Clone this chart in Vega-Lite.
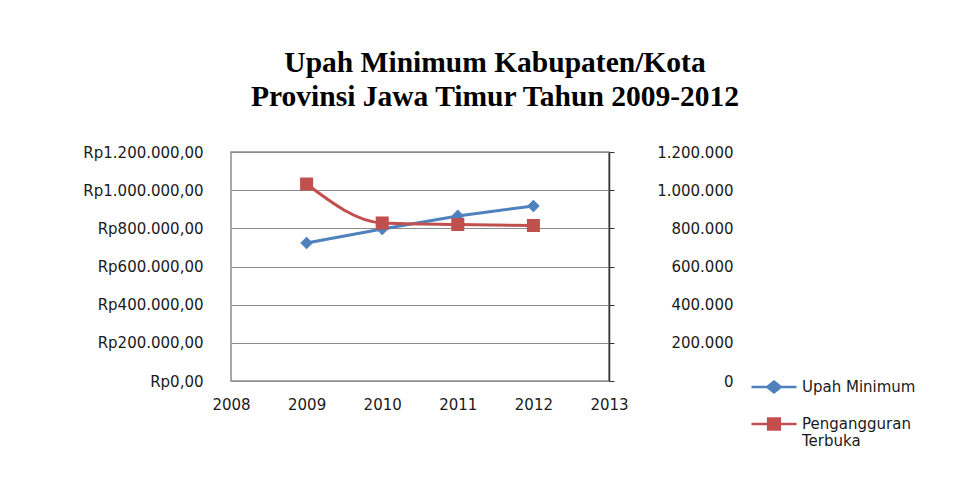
{
  "$schema": "https://vega.github.io/schema/vega-lite/v6.json",
  "width": 378,
  "height": 229,
  "autosize": {"type": "none"},
  "padding": {"left": 231, "top": 152, "right": 358, "bottom": 96},
  "background": "white",
  "config": {
    "locale": {"number": {"decimal": ",", "thousands": ".", "grouping": [3], "currency": ["Rp", ""]}},
    "view": {"stroke": "#8c8c8c", "strokeWidth": 1.5},
    "font": "DejaVu Sans",
    "axis": {"labelFont": "DejaVu Sans", "labelFontSize": 15, "labelColor": "#1a1a1a", "title": null}
  },
  "title": {
    "text": ["Upah Minimum Kabupaten/Kota", "Provinsi Jawa Timur Tahun 2009-2012"],
    "font": "Liberation Serif",
    "fontWeight": "bold",
    "fontSize": 29.5,
    "lineHeight": 34,
    "color": "#000000",
    "anchor": "middle",
    "frame": "group",
    "dx": 75,
    "offset": 33
  },
  "data": {
    "values": [
      {"year": 2009, "series": "Upah Minimum", "value": 723000},
      {"year": 2010, "series": "Upah Minimum", "value": 797000},
      {"year": 2011, "series": "Upah Minimum", "value": 865000},
      {"year": 2012, "series": "Upah Minimum", "value": 917000},
      {"year": 2009, "series": "Pengangguran Terbuka", "value": 1032000},
      {"year": 2010, "series": "Pengangguran Terbuka", "value": 828000},
      {"year": 2011, "series": "Pengangguran Terbuka", "value": 820000},
      {"year": 2012, "series": "Pengangguran Terbuka", "value": 815000}
    ]
  },
  "encoding": {
    "x": {
      "field": "year",
      "type": "quantitative",
      "scale": {"domain": [2008, 2013], "nice": false, "zero": false},
      "axis": {"values": [2008, 2009, 2010, 2011, 2012, 2013], "format": "d", "grid": false, "domain": false, "ticks": false, "labelPadding": 16, "labelFlush": false, "title": null}
    },
    "color": {
      "field": "series",
      "type": "nominal",
      "scale": {"domain": ["Upah Minimum", "Pengangguran Terbuka"], "range": ["#4F81BD", "#C0504D"]},
      "legend": {
        "orient": "none",
        "legendX": 519,
        "legendY": 211,
        "title": null,
        "labelFont": "DejaVu Sans",
        "labelFontSize": 15,
        "labelColor": "#1a1a1a",
        "symbolType": "M-1,0H1",
        "symbolSize": 2025,
        "symbolStrokeWidth": 2.5,
        "labelOffset": 4,
        "rowPadding": 2,
        "labelExpr": "datum.label == 'Pengangguran Terbuka' ? ['Pengangguran', 'Terbuka'] : datum.label",
        "encode": {
          "symbols": {
            "update": {
              "shape": {"signal": "datum.value == 'Upah Minimum' ? 'M-1,0H1M0,-0.24L0.3,0L0,0.24L-0.3,0Z' : 'M-1,0H1M-0.26,-0.24H0.26V0.24H-0.26Z'"},
              "fill": {"scale": "color", "field": "value"},
              "stroke": {"scale": "color", "field": "value"},
              "opacity": {"value": 1}
            }
          }
        }
      }
    }
  },
  "layer": [
    {
      "transform": [{"filter": "datum.series == 'Upah Minimum'"}],
      "encoding": {
        "y": {
          "field": "value",
          "type": "quantitative",
          "scale": {"domain": [0, 1200000], "nice": false},
          "axis": {"orient": "left", "values": [0, 200000, 400000, 600000, 800000, 1000000, 1200000], "format": "$,.2f", "grid": true, "gridColor": "#8c8c8c", "gridWidth": 1.2, "domain": false, "ticks": false, "labelPadding": 28, "title": null}
        }
      },
      "layer": [
        {"mark": {"type": "line", "strokeWidth": 3}},
        {"mark": {"type": "point", "shape": "diamond", "filled": true, "size": 160, "opacity": 1}}
      ]
    },
    {
      "transform": [{"filter": "datum.series == 'Pengangguran Terbuka'"}],
      "encoding": {
        "y": {
          "field": "value",
          "type": "quantitative",
          "scale": {"domain": [0, 1200000], "nice": false},
          "axis": {"orient": "right", "values": [0, 200000, 400000, 600000, 800000, 1000000, 1200000], "format": ",d", "grid": false, "domain": true, "domainColor": "#333333", "domainWidth": 1.5, "ticks": true, "tickColor": "#333333", "tickSize": 5, "labelAlign": "right", "labelPadding": 119, "title": null}
        }
      },
      "layer": [
        {"mark": {"type": "line", "strokeWidth": 3, "interpolate": "monotone"}},
        {"mark": {"type": "point", "shape": "square", "filled": true, "size": 170, "opacity": 1}}
      ]
    }
  ],
  "resolve": {"scale": {"y": "independent"}}
}
